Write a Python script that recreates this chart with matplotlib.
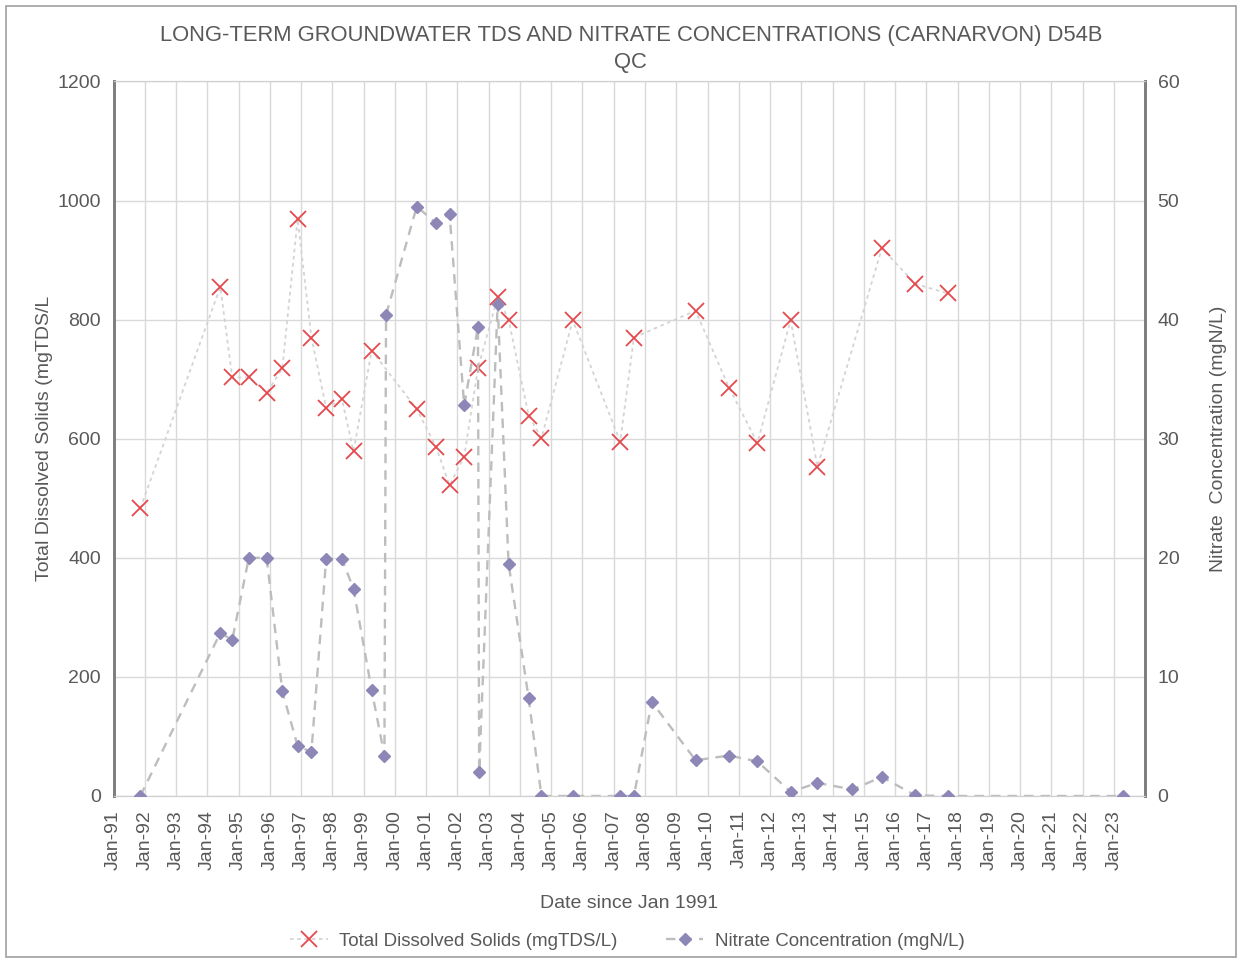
import pandas as pd
import matplotlib
matplotlib.use("Agg")
import matplotlib.pyplot as plt
import matplotlib.dates as mdates
from matplotlib.patches import Rectangle

plt.rcParams['font.family'] = ['Liberation Sans', 'DejaVu Sans']

# TDS samples (mgTDS/L)
tds_dates = ["1991-11-10", "1994-06-02", "1994-10-19", "1995-05-01", "1995-11-25",
             "1996-05-26", "1996-11-21", "1997-05-01", "1997-10-20", "1998-04-23",
             "1998-09-05", "1999-04-05", "2000-09-13", "2001-04-27", "2001-10-01",
             "2002-03-21", "2002-08-29", "2003-04-16", "2003-08-22", "2004-04-12",
             "2004-09-09", "2005-09-09", "2007-03-18", "2007-08-25", "2009-08-14",
             "2010-09-09", "2011-08-07", "2012-08-29", "2013-07-09", "2015-07-31",
             "2016-08-25", "2017-09-13"]
tds_values = [483, 855, 703, 703, 677, 718, 969, 770, 652, 666,
              579, 748, 650, 586, 522, 570, 718, 838, 800, 639,
              601, 799, 595, 770, 815, 686, 593, 799, 553, 920,
              860, 844]

# Nitrate samples (mgN/L)
no3_dates = ["1991-11-10", "1994-06-02", "1994-10-19", "1995-05-01", "1995-11-25",
             "1996-05-26", "1996-11-21", "1997-05-01", "1997-10-20", "1998-04-23",
             "1998-09-05", "1999-04-05", "1999-09-01", "1999-09-20", "2000-09-13",
             "2001-04-27", "2001-10-01", "2002-03-21", "2002-08-29", "2002-09-12",
             "2003-04-16", "2003-08-22", "2004-04-12", "2004-09-09", "2005-09-09",
             "2007-03-18", "2007-08-25", "2008-03-21", "2009-08-14", "2010-09-09",
             "2011-08-07", "2012-08-29", "2013-07-09", "2014-08-22", "2015-07-31",
             "2016-08-25", "2017-09-13", "2023-04-20"]
no3_values = [0.0, 13.7, 13.1, 20.0, 20.0, 8.8, 4.2, 3.7, 19.9, 19.9,
              17.4, 8.9, 3.4, 40.4, 49.5, 48.1, 48.9, 32.8, 39.4, 2.0,
              41.3, 19.5, 8.2, 0.0, 0.0, 0.0, 0.0, 7.9, 3.0, 3.4,
              2.9, 0.35, 1.1, 0.55, 1.6, 0.05, 0.0, 0.0]

# x tick years (Jan of each year)
tick_years = list(range(1991, 2024))

txt = '#595959'

fig = plt.figure(figsize=(12.42, 9.61), dpi=100)
fig.patches.append(Rectangle((0.005, 0.004), 0.99, 0.99, transform=fig.transFigure,
                             fill=False, edgecolor='#a0a0a0', linewidth=1.2))
ax = fig.add_axes([0.0914, 0.1717, 0.8306, 0.7435])
ax2 = ax.twinx()

ax.plot(pd.to_datetime(tds_dates), tds_values, linestyle=(0, (2, 2)), color='#d4d4d4',
        linewidth=1.3, marker='x', markersize=11, markeredgewidth=1.3,
        markeredgecolor='#e5484d', label='Total Dissolved Solids (mgTDS/L)', zorder=3)
ax2.plot(pd.to_datetime(no3_dates), no3_values, linestyle=(0, (4, 3)), color='#bdbdbd',
         linewidth=1.7, marker='D', markersize=6.5, markerfacecolor='#8c87b7',
         markeredgecolor='#8c87b7', label='Nitrate Concentration (mgN/L)', zorder=3)

ax.set_xlim(pd.Timestamp("1991-01-01"), pd.Timestamp("2024-01-01"))
ax.set_ylim(0, 1200)
ax2.set_ylim(0, 60)
ax.set_yticks(range(0, 1201, 200))
ax2.set_yticks(range(0, 61, 10))
ax.set_xticks([pd.Timestamp(f"{y}-01-01") for y in tick_years])
ax.xaxis.set_major_formatter(mdates.DateFormatter('%b-%y'))
ax.grid(True, color='#d9d9d9', linewidth=1)
ax.set_axisbelow(True)

for a in (ax, ax2):
    a.tick_params(length=0, labelsize=14, labelcolor=txt, pad=9)
    for s in ('top', 'bottom'):
        a.spines[s].set_color('#d0d0d0')
    a.spines['left'].set_color('#7f7f7f')
    a.spines['right'].set_color('#7f7f7f')
    a.spines['left'].set_linewidth(2)
    a.spines['right'].set_linewidth(2)
ax.tick_params(axis='x', rotation=90, pad=10)

ax.set_ylabel('Total Dissolved Solids (mgTDS/L', fontsize=14, color=txt, labelpad=3)
ax2.set_ylabel('Nitrate  Concentration (mgN/L)', fontsize=14, color=txt, labelpad=22)
ax.set_xlabel('Date since Jan 1991', fontsize=14, color=txt, labelpad=18)

fig.text(0.508, 0.974, 'LONG-TERM GROUNDWATER TDS AND NITRATE CONCENTRATIONS (CARNARVON) D54B\nQC',
         ha='center', va='top', fontsize=15.8, color=txt, linespacing=1.35)

h1, l1 = ax.get_legend_handles_labels()
h2, l2 = ax2.get_legend_handles_labels()
fig.legend(h1 + h2, l1 + l2, loc='lower center', bbox_to_anchor=(0.505, -0.006), ncol=2,
           frameon=False, fontsize=13.5, labelcolor=txt, handlelength=2.0,
           handletextpad=0.6, columnspacing=2.6)

fig.savefig('out.png', dpi=100)
